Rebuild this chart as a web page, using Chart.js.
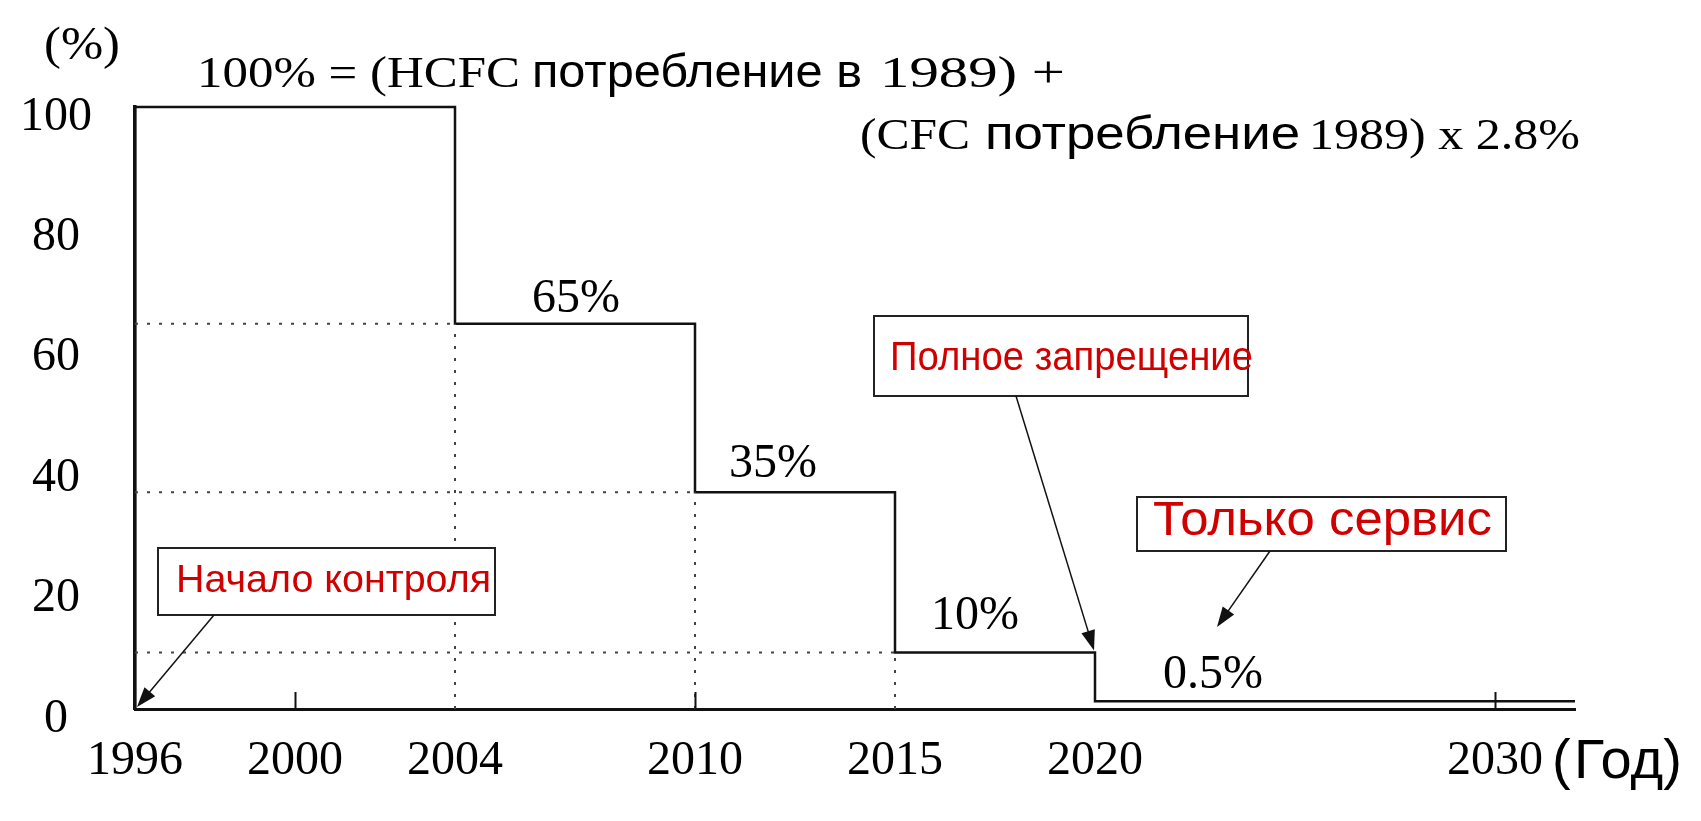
<!DOCTYPE html>
<html><head><meta charset="utf-8">
<script src="https://cdn.jsdelivr.net/npm/chart.js@4/dist/chart.umd.min.js"></script>
<style>html,body{margin:0;padding:0;background:#fff;} #wrap{width:1701px;height:821px;}</style>
</head><body><div id="wrap"><canvas id="c" width="1701" height="821"></canvas></div>
<script>
// ---- data ----
const years = [1996, 2004, 2010, 2015, 2020, 2032];
const levels = [100, 64, 36, 9.4, 1.3, 1.3];
const stepLabels = ['65%', '35%', '10%', '0.5%'];
const xTickValues = [1996, 2000, 2004, 2010, 2015, 2020, 2030];
const xTickLabels = ['1996', '2000', '2004', '2010', '2015', '2020', '2030'];
const yTickValues = [0, 20, 40, 60, 80, 100];
const minorTicks = [2000, 2010, 2030];
const guideYears = [2004, 2010, 2015];
const guideLevels = [64, 36, 9.4];
const xAxisTitle = '(Год)';
const yAxisTitle = '(%)';
const callouts = ['Начало контроля', 'Полное запрещение', 'Только сервис'];

const SERIF = "'Liberation Serif', 'Times New Roman', serif";
const SANS = "'Liberation Sans', Arial, sans-serif";
const RED = '#d00000';

const stepData = [{x: years[0], y: 0}].concat(years.map((x, i) => ({x, y: levels[i]})));

const datasets = [];
guideYears.forEach((yr, i) => {
  const g = guideLevels[i];
  const style = {borderColor: '#444', borderWidth: 2, borderDash: [3, 9], pointRadius: 0, fill: false};
  datasets.push(Object.assign({data: [{x: years[0], y: g}, {x: yr, y: g}]}, style));
  datasets.push(Object.assign({data: [{x: yr, y: 0}, {x: yr, y: g}]}, style));
});
datasets.push({data: stepData, stepped: 'before', borderColor: '#111', borderWidth: 2.5, pointRadius: 0, fill: false, clip: false});

function stretchText(ctx, text, font, x0, x1, baseline, color) {
  ctx.save();
  ctx.font = font;
  ctx.fillStyle = color;
  ctx.textBaseline = 'alphabetic';
  ctx.textAlign = 'left';
  const w = ctx.measureText(text).width;
  ctx.translate(x0, baseline);
  ctx.scale((x1 - x0) / w, 1);
  ctx.fillText(text, 0, 0);
  ctx.restore();
}
function plainText(ctx, text, font, x, baseline, color) {
  ctx.save();
  ctx.font = font; ctx.fillStyle = color; ctx.textBaseline = 'alphabetic'; ctx.textAlign = 'left';
  ctx.fillText(text, x, baseline);
  ctx.restore();
}
function arrow(ctx, x1, y1, x2, y2) {
  const a = Math.atan2(y2 - y1, x2 - x1);
  const L = 20, W = 7;
  ctx.save();
  ctx.strokeStyle = '#111'; ctx.fillStyle = '#111'; ctx.lineWidth = 1.5;
  ctx.beginPath(); ctx.moveTo(x1, y1);
  ctx.lineTo(x2 - Math.cos(a) * L * 0.8, y2 - Math.sin(a) * L * 0.8); ctx.stroke();
  ctx.beginPath(); ctx.moveTo(x2, y2);
  ctx.lineTo(x2 - Math.cos(a) * L - Math.sin(a) * W, y2 - Math.sin(a) * L + Math.cos(a) * W);
  ctx.lineTo(x2 - Math.cos(a) * L + Math.sin(a) * W, y2 - Math.sin(a) * L - Math.cos(a) * W);
  ctx.closePath(); ctx.fill();
  ctx.restore();
}
function box(ctx, x0, y0, x1, y1) {
  ctx.save();
  ctx.fillStyle = '#fff'; ctx.fillRect(x0, y0, x1 - x0, y1 - y0);
  ctx.strokeStyle = '#222'; ctx.lineWidth = 2; ctx.strokeRect(x0, y0, x1 - x0, y1 - y0);
  ctx.restore();
}

const annot = {
  id: 'annot',
  afterDatasetsDraw(chart) {
    const ctx = chart.ctx;
    const xs = chart.scales.x, ys = chart.scales.y;
    // minor tick marks pointing up
    ctx.save();
    ctx.strokeStyle = '#111'; ctx.lineWidth = 2;
    minorTicks.forEach(v => {
      const px = Math.round(xs.getPixelForValue(v)) + 0.5;
      const py = ys.getPixelForValue(0);
      ctx.beginPath(); ctx.moveTo(px, py); ctx.lineTo(px, py - 17); ctx.stroke();
    });
    ctx.restore();

    // titles
    stretchText(ctx, yAxisTitle, '46px ' + SERIF, 44, 120, 59, '#000');
    stretchText(ctx, '100% = (HCFC', '44px ' + SERIF, 197, 520, 87, '#000');
    stretchText(ctx, 'потребление в', '46px ' + SANS, 532, 862, 87, '#000');
    stretchText(ctx, '1989) +', '44px ' + SERIF, 880, 1065, 87, '#000');
    stretchText(ctx, '(CFC', '44px ' + SERIF, 860, 970, 149, '#000');
    stretchText(ctx, 'потребление', '46px ' + SANS, 985, 1300, 149, '#000');
    stretchText(ctx, '1989) x 2.8%', '44px ' + SERIF, 1309, 1580, 149, '#000');
    plainText(ctx, xAxisTitle.slice(0, 1), '56px ' + SANS, 1552, 778, '#000');
    plainText(ctx, xAxisTitle.slice(1), '56px ' + SANS, 1574, 778, '#000');

    // step labels
    ctx.save();
    ctx.font = '48px ' + SERIF; ctx.fillStyle = '#000'; ctx.textBaseline = 'alphabetic';
    ctx.fillText(stepLabels[0], 532, 312);
    ctx.fillText(stepLabels[1], 729, 477);
    ctx.fillText(stepLabels[2], 931, 629);
    ctx.fillText(stepLabels[3], 1163, 688);
    ctx.restore();

    // callouts
    box(ctx, 158, 548, 495, 615);
    stretchText(ctx, callouts[0], '38px ' + SANS, 176, 491, 592, RED);
    arrow(ctx, 214, 615, xs.getPixelForValue(years[0]) + 2, ys.getPixelForValue(0) - 2);

    box(ctx, 874, 316, 1248, 396);
    stretchText(ctx, callouts[1], '40px ' + SANS, 890, 1253, 370, RED);
    arrow(ctx, 1016, 396, xs.getPixelForValue(years[4]) - 1, ys.getPixelForValue(levels[3]) - 2);

    box(ctx, 1137, 497, 1506, 551);
    stretchText(ctx, callouts[2], '48px ' + SANS, 1153, 1492, 535, RED);
    arrow(ctx, 1270, 551, 1217, 627);
  }
};

new Chart(document.getElementById('c'), {
  type: 'line',
  data: {datasets},
  options: {
    animation: false, responsive: false, devicePixelRatio: 1,
    layout: {padding: {top: 107, right: 126, bottom: 0, left: 0}},
    plugins: {legend: {display: false}, tooltip: {enabled: false}},
    elements: {point: {radius: 0}, line: {tension: 0}},
    scales: {
      x: {
        type: 'linear', min: 1996, max: 2032,
        afterBuildTicks: s => { s.ticks = xTickValues.map(v => ({value: v})); },
        afterFit: s => { s.height = 112; },
        ticks: {callback: (v, i) => xTickLabels[i], font: {family: SERIF, size: 48}, color: '#000',
                padding: 24, maxRotation: 0, autoSkip: false},
        grid: {display: false, drawTicks: false},
        border: {display: true, color: '#111', width: 3}
      },
      y: {
        min: 0, max: 100,
        afterBuildTicks: s => { s.ticks = yTickValues.map(v => ({value: v})); },
        afterFit: s => { s.width = 135; },
        ticks: {font: {family: SERIF, size: 48}, color: '#000', crossAlign: 'center',
                padding: 43, labelOffset: 10},
        grid: {display: false, drawTicks: false},
        border: {display: true, color: '#111', width: 3.5}
      }
    }
  },
  plugins: [annot]
});
</script></body></html>
